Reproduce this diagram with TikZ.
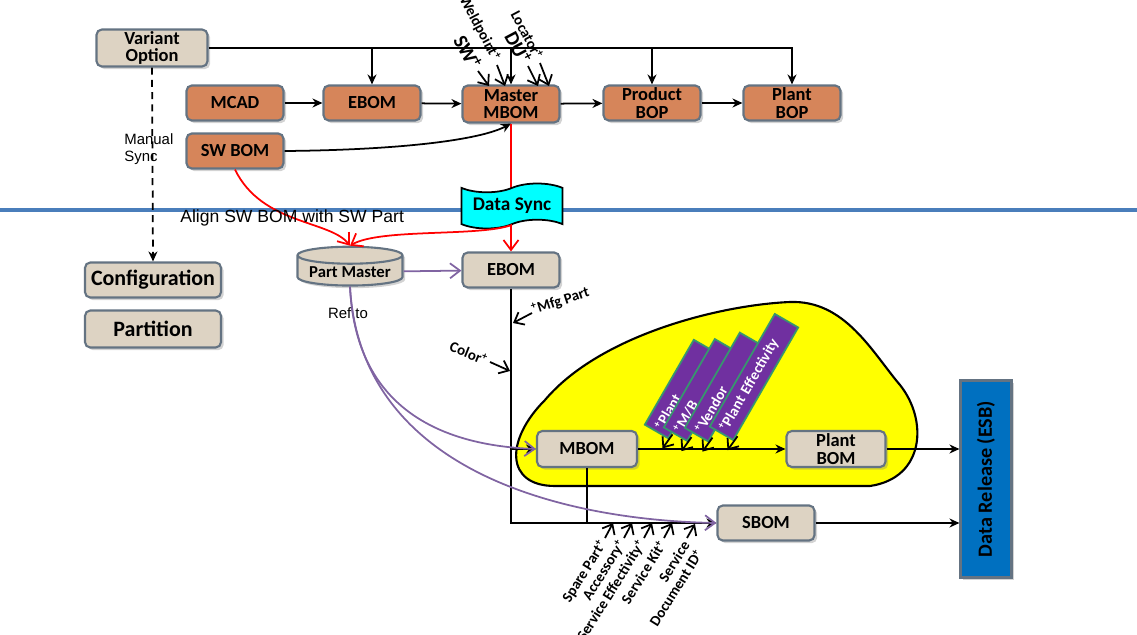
\documentclass[tikz,border=0pt]{standalone}
\usepackage{fontspec}
\setmainfont{Carlito}
\newfontfamily\arialfont{Liberation Sans}
\usetikzlibrary{arrows.meta,shapes.geometric,shapes.symbols,shadows,positioning}

\definecolor{boxbeige}{RGB}{221,211,195}
\definecolor{cadorange}{RGB}{214,133,90}
\definecolor{boxline}{RGB}{100,115,130}
\definecolor{sepblue}{RGB}{74,126,187}
\definecolor{tagpurple}{RGB}{112,48,160}
\definecolor{taggreen}{RGB}{55,150,110}
\definecolor{refpurple}{RGB}{128,100,162}
\definecolor{esbblue}{RGB}{0,112,192}
\definecolor{syncred}{RGB}{255,0,0}
\definecolor{synccyan}{RGB}{0,255,255}
\definecolor{plantyellow}{RGB}{255,255,0}

\tikzset{
  bombox/.style={draw=boxline, line width=1.2pt, rounded corners=3pt, fill=boxbeige,
    font=\bfseries\fontsize{10.5}{10}\selectfont, align=center, inner sep=1pt,
    minimum width=1.94cm, minimum height=0.7cm,
    drop shadow={shadow xshift=1.5pt, shadow yshift=-1.5pt, opacity=0.35}},
  srcbox/.style={bombox, fill=cadorange},
  sidebox/.style={bombox, font=\bfseries\fontsize{12.5}{13}\selectfont, minimum width=2.72cm},
  esbbox/.style={bombox, fill=esbblue, rounded corners=0pt, font=\bfseries\fontsize{11.5}{12}\selectfont,
    minimum width=1.02cm, minimum height=3.94cm},
  dbcyl/.style={shape=cylinder, shape border rotate=90, aspect=0.2, draw=boxline, line width=1.2pt,
    fill=boxbeige, font=\bfseries\fontsize{9.5}{9.5}\selectfont,
    minimum width=2.1cm, minimum height=0.72cm, inner sep=1pt,
    drop shadow={shadow xshift=1.5pt, shadow yshift=-1.5pt, opacity=0.35}},
  syncflag/.style={shape=tape, draw=black, line width=1pt, fill=synccyan,
    font=\bfseries\fontsize{11}{11}\selectfont, minimum width=2.02cm, minimum height=0.78cm},
  tagbox/.style={draw=taggreen, line width=1pt, fill=tagpurple, text=white, rotate=60,
    font=\bfseries\fontsize{8.5}{8.5}\selectfont, minimum height=0.54cm, inner sep=2pt, align=left},
  lbl/.style={font=\bfseries\fontsize{8.5}{9}\selectfont, inner sep=0.5pt},
  biglbl/.style={lbl, font=\bfseries\fontsize{11.5}{12}\selectfont},
  note/.style={font=\arialfont\fontsize{8.5}{10}\selectfont, align=left, inner sep=0pt},
  conn/.style={-{Stealth[length=2mm,width=1.8mm]}, line width=1pt},
  inarrow/.style={-{Straight Barb[length=1.7mm,width=2.8mm]}, line width=1pt},
  redconn/.style={-{Straight Barb[length=2mm,width=3mm]}, draw=syncred, line width=1pt},
  refconn/.style={-{Straight Barb[length=2mm,width=3mm]}, draw=refpurple, line width=1pt},
}

\begin{document}
\begin{tikzpicture}[x=0.02cm,y=-0.02cm]
\useasboundingbox (0,0) rectangle (1137,635);

% separator and plant region
\draw[sepblue, line width=2.4pt] (0,210) -- (1137,210);
\draw[fill=plantyellow, line width=1.2pt] (555,486) -- (870,486)
  .. controls (925,478) and (928,420) .. (900,385)
  .. controls (872,352) and (845,300) .. (790,302)
  .. controls (720,305) and (600,335) .. (545,400)
  .. controls (505,440) and (505,486) .. (555,486) -- cycle;

% upper part
\node[bombox, minimum width=2.22cm] (vo) at (152,48) {Variant\\Option};
\node[srcbox] (mcad) at (235,103) {MCAD};
\node[srcbox] (ebomt) at (372,103) {EBOM};
\node[srcbox, minimum height=0.74cm] (mmbom) at (511,104) {Master\\MBOM};
\node[srcbox] (prbop) at (652,103) {Product\\BOP};
\node[srcbox] (pbop) at (792,103) {Plant\\BOP};
\node[srcbox] (swbom) at (235,151) {SW BOM};

% lower part
\node[sidebox] (conf) at (153,280) {Configuration};
\node[sidebox, minimum height=0.74cm] (part) at (153,329) {Partition};
\node[dbcyl] (pm) at (350,272) {Part Master};
\node[bombox] (ebomb) at (511,270) {EBOM};
\node[bombox, minimum width=2cm, minimum height=0.72cm] (mbom) at (587,449) {MBOM};
\node[bombox, minimum width=1.98cm, minimum height=0.72cm] (pbom) at (836,449) {Plant\\BOM};
\node[bombox] (sbom) at (766,523) {SBOM};
\node[esbbox] (esb) at (986,479) {\rotatebox{90}{Data Release (ESB)}};

% variant option feeds
\draw[conn] (vo.east) -| (pbop.north);
\foreach \n in {ebomt,mmbom,prbop}
  \draw[conn] (vo.east -| \n.north) -- (\n.north);
\draw[conn, dash pattern=on 4pt off 3pt] (vo.south) -- (conf.north);
\node[note, anchor=west] (msync) at (124,149) {Manual\\Sync};

% cad chain
\draw[conn] (mcad) -- (ebomt);
\draw[conn] (ebomt) -- (mmbom);
\draw[conn] (mmbom) -- (prbop);
\draw[conn] (prbop) -- (pbop);
\draw[conn] (swbom.east) .. controls (400,150) and (480,140) .. (mmbom.south);

% sync
\draw[redconn] (mmbom.south) -- (ebomb.north);
\node[syncflag] (ds) at (512,206) {Data Sync};
\draw[redconn] (swbom.south) .. controls (262,225) and (330,220) .. (pm.north);
\draw[redconn] (ds.south) .. controls (480,237) and (380,228) .. (pm.north);
\node[note, anchor=west, font=\arialfont\fontsize{10}{11}\selectfont] (align) at (180,218) {Align SW BOM with SW Part};

% ebom down to mbom and sbom
\draw[conn] (ebomb.south) |- (sbom.west);
\draw[conn] (ebomb.south |- mbom.west) -- (mbom.west);
\draw[line width=1pt] (mbom.south) -- (mbom.south |- sbom.west);
\draw[conn] (mbom) -- (pbom);
\draw[conn] (pbom.east) -- (pbom.east -| esb.west);
\draw[conn] (sbom.east) -- (sbom.east -| esb.west);

% part master references
\draw[refconn] (pm) -- (ebomb);
\draw[refconn] (pm.south) .. controls (355,400) and (430,445) .. (mbom.west);
\draw[refconn] (pm.south) .. controls (360,470) and (560,520) .. (sbom.west);
\node[note] (refto) at (348,313) {Ref to};

% inputs to master mbom
\node[biglbl, rotate=-62, anchor=east] (lsw) at (477,69) {SW\textsuperscript{+}};
\draw[inarrow] (lsw.east) ++(1,2) -- ++(11,15);
\node[lbl, rotate=-62, anchor=east] (lwp) at (497,61) {Weldpoint\textsuperscript{+}};
\draw[inarrow] (lwp.east) ++(0,4) -- ++(8,21);
\node[biglbl, rotate=-62, anchor=east] (ldu) at (527,64) {DU\textsuperscript{+}};
\draw[inarrow] (ldu.east) ++(1,2) -- ++(10,20);
\node[lbl, rotate=-62, anchor=east] (lloc) at (540,59) {Locator\textsuperscript{+}};
\draw[inarrow] (lloc.east) ++(0,4) -- ++(9,23);

% inputs to ebom line
\node[lbl, rotate=18, anchor=west] (lmfg) at (531,311) {\textsuperscript{+}Mfg Part};
\draw[inarrow] (lmfg.west) ++(1,2) -- ++(-19,10);
\node[lbl, rotate=-22, anchor=east] (lcol) at (488,361) {Color\textsuperscript{+}};
\draw[inarrow] (lcol.east) ++(2,1) -- ++(20,9);

% plant tags
\foreach \i/\cx/\cy/\tw/\txt in {1/681/389/1.82/Plant, 2/701/390/1.9/{M/B},
    3/724/387/2.06/Vendor, 4/754/377/2.46/Plant Effectivity}{
  \node[tagbox, text width=\tw cm] (tag\i) at (\cx,\cy) {\textsuperscript{+}\txt};
  \draw[inarrow] (tag\i.south west) ++(4,-5) -- ++(-10,14);
}

% service inputs
\foreach \n/\x/\txt in {sp/613/Spare Part, ac/632/Accessory,
    se/652/Service Effectivity, sk/672/Service Kit}{
  \node[lbl, rotate=58, anchor=east] (l\n) at (\x-9,541) {\txt\textsuperscript{+}};
  \draw[inarrow] (l\n.east) ++(1,-3) -- ++(8,-15);
}
\node[lbl, rotate=58, anchor=north east, align=right] (lsd) at (681,538) {Service\\Document ID\textsuperscript{+}};
\draw[inarrow] (lsd.north east) ++(6,0) -- ++(8,-14);
\end{tikzpicture}
\end{document}
